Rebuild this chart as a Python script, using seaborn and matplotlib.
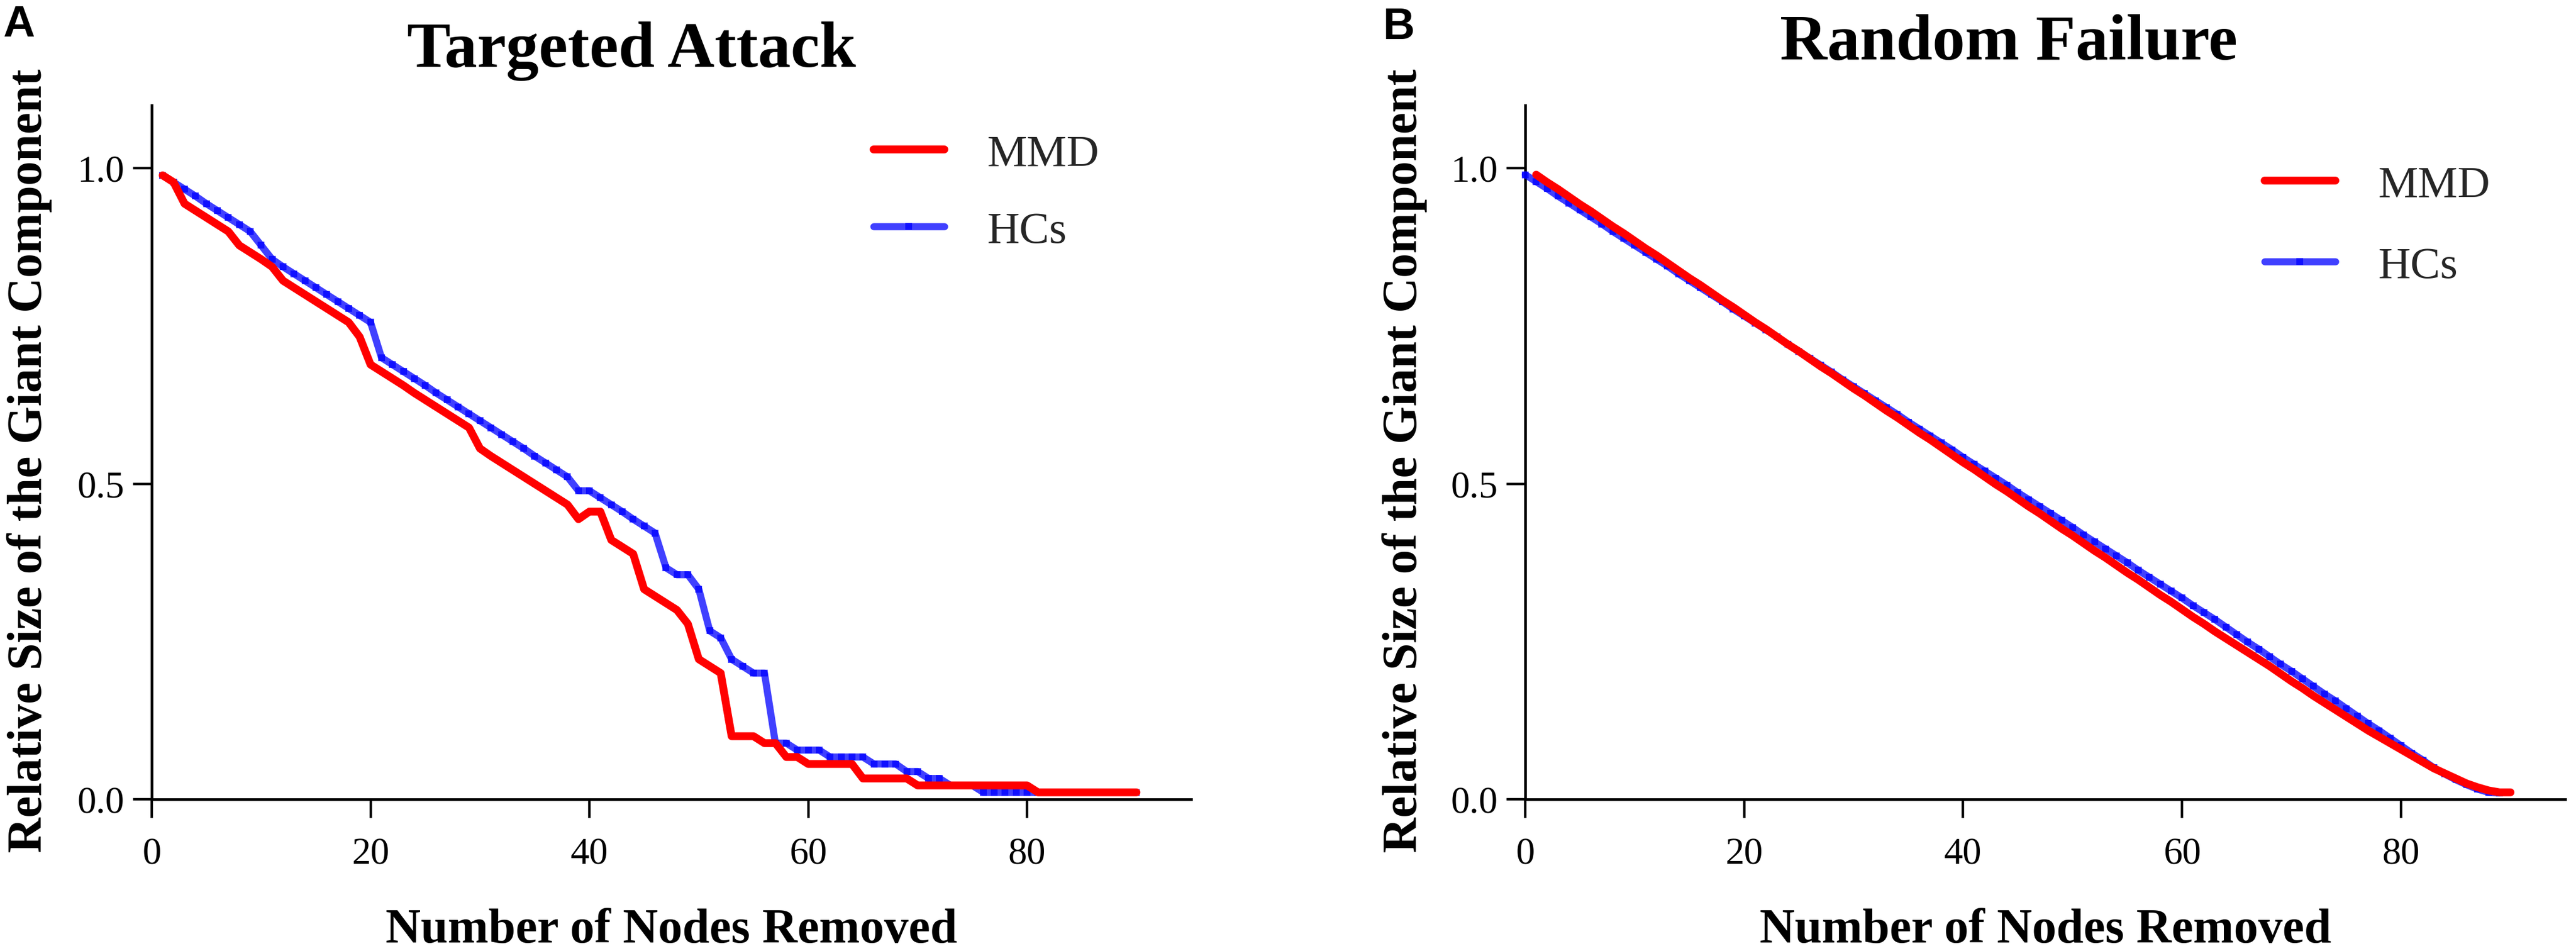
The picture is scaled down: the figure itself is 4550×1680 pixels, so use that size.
import matplotlib
matplotlib.use("Agg")
import matplotlib.pyplot as plt
import seaborn as sns
from matplotlib.lines import Line2D

# ---------------- data ----------------
nodes_ta = [1, 2, 3, 4, 5, 6, 7, 8, 9, 10, 11, 12, 13, 14, 15, 16, 17, 18, 19, 20,
            21, 22, 23, 24, 25, 26, 27, 28, 29, 30, 31, 32, 33, 34, 35, 36, 37, 38, 39, 40,
            41, 42, 43, 44, 45, 46, 47, 48, 49, 50, 51, 52, 53, 54, 55, 56, 57, 58, 59, 60,
            61, 62, 63, 64, 65, 66, 67, 68, 69, 70, 71, 72, 73, 74, 75, 76, 77, 78, 79, 80,
            81, 82, 83, 84, 85, 86, 87, 88, 89, 90]

mmd_ta = [0.989, 0.978, 0.944, 0.933, 0.922, 0.911, 0.900, 0.878, 0.867, 0.856,
          0.844, 0.822, 0.811, 0.800, 0.789, 0.778, 0.767, 0.756, 0.733, 0.689,
          0.678, 0.667, 0.656, 0.644, 0.633, 0.622, 0.611, 0.600, 0.589, 0.556,
          0.544, 0.533, 0.522, 0.511, 0.500, 0.489, 0.478, 0.467, 0.444, 0.456,
          0.456, 0.411, 0.400, 0.389, 0.333, 0.322, 0.311, 0.300, 0.278, 0.222,
          0.211, 0.200, 0.100, 0.100, 0.100, 0.089, 0.089, 0.067, 0.067, 0.056,
          0.056, 0.056, 0.056, 0.056, 0.033, 0.033, 0.033, 0.033, 0.033, 0.022,
          0.022, 0.022, 0.022, 0.022, 0.022, 0.022, 0.022, 0.022, 0.022, 0.022,
          0.011, 0.011, 0.011, 0.011, 0.011, 0.011, 0.011, 0.011, 0.011, 0.011]

hcs_ta = [0.989, 0.978, 0.967, 0.956, 0.944, 0.933, 0.922, 0.911, 0.900, 0.878,
          0.856, 0.844, 0.833, 0.822, 0.811, 0.800, 0.789, 0.778, 0.767, 0.756,
          0.700, 0.689, 0.678, 0.667, 0.656, 0.644, 0.633, 0.622, 0.611, 0.600,
          0.589, 0.578, 0.567, 0.556, 0.544, 0.533, 0.522, 0.511, 0.489, 0.489,
          0.478, 0.467, 0.456, 0.444, 0.433, 0.422, 0.367, 0.356, 0.356, 0.333,
          0.267, 0.256, 0.222, 0.211, 0.200, 0.200, 0.089, 0.089, 0.078, 0.078,
          0.078, 0.067, 0.067, 0.067, 0.067, 0.056, 0.056, 0.056, 0.044, 0.044,
          0.033, 0.033, 0.022, 0.022, 0.022, 0.011, 0.011, 0.011, 0.011, 0.011,
          0.011, 0.011, 0.011, 0.011, 0.011, 0.011, 0.011, 0.011, 0.011, 0.011]

nodes_rf_mmd = [1, 2, 3, 4, 5, 6, 7, 8, 9, 10, 11, 12, 13, 14, 15, 16, 17, 18, 19, 20,
                21, 22, 23, 24, 25, 26, 27, 28, 29, 30, 31, 32, 33, 34, 35, 36, 37, 38, 39, 40,
                41, 42, 43, 44, 45, 46, 47, 48, 49, 50, 51, 52, 53, 54, 55, 56, 57, 58, 59, 60,
                61, 62, 63, 64, 65, 66, 67, 68, 69, 70, 71, 72, 73, 74, 75, 76, 77, 78, 79, 80,
                81, 82, 83, 84, 85, 86, 87, 88, 89, 90]

mmd_rf = [0.990, 0.978, 0.967, 0.955, 0.943, 0.932, 0.920, 0.908, 0.897, 0.885,
          0.873, 0.862, 0.850, 0.838, 0.826, 0.815, 0.803, 0.791, 0.780, 0.768,
          0.756, 0.745, 0.733, 0.721, 0.710, 0.698, 0.686, 0.675, 0.663, 0.651,
          0.640, 0.628, 0.616, 0.605, 0.593, 0.581, 0.570, 0.558, 0.546, 0.534,
          0.523, 0.511, 0.499, 0.488, 0.476, 0.464, 0.453, 0.441, 0.429, 0.418,
          0.406, 0.394, 0.383, 0.371, 0.359, 0.348, 0.336, 0.324, 0.313, 0.301,
          0.289, 0.278, 0.266, 0.255, 0.244, 0.233, 0.222, 0.211, 0.199, 0.187,
          0.176, 0.164, 0.153, 0.142, 0.131, 0.120, 0.109, 0.099, 0.089, 0.079,
          0.069, 0.059, 0.049, 0.041, 0.033, 0.025, 0.019, 0.014, 0.011, 0.011]

nodes_rf_hcs = [0, 1, 2, 3, 4, 5, 6, 7, 8, 9, 10, 11, 12, 13, 14, 15, 16, 17, 18, 19,
                20, 21, 22, 23, 24, 25, 26, 27, 28, 29, 30, 31, 32, 33, 34, 35, 36, 37, 38, 39,
                40, 41, 42, 43, 44, 45, 46, 47, 48, 49, 50, 51, 52, 53, 54, 55, 56, 57, 58, 59,
                60, 61, 62, 63, 64, 65, 66, 67, 68, 69, 70, 71, 72, 73, 74, 75, 76, 77, 78, 79,
                80, 81, 82, 83, 84, 85, 86, 87, 88, 89]

hcs_rf = [0.990, 0.979, 0.968, 0.956, 0.945, 0.934, 0.923, 0.912, 0.900, 0.889,
          0.878, 0.867, 0.856, 0.845, 0.833, 0.822, 0.811, 0.800, 0.789, 0.777,
          0.766, 0.755, 0.744, 0.733, 0.721, 0.710, 0.699, 0.688, 0.677, 0.665,
          0.654, 0.643, 0.632, 0.621, 0.610, 0.598, 0.587, 0.576, 0.565, 0.554,
          0.542, 0.531, 0.520, 0.509, 0.498, 0.486, 0.475, 0.464, 0.453, 0.442,
          0.431, 0.419, 0.408, 0.397, 0.386, 0.375, 0.363, 0.352, 0.341, 0.330,
          0.319, 0.307, 0.296, 0.285, 0.273, 0.261, 0.249, 0.238, 0.226, 0.214,
          0.203, 0.191, 0.179, 0.167, 0.156, 0.144, 0.132, 0.120, 0.109, 0.097,
          0.085, 0.073, 0.062, 0.050, 0.040, 0.031, 0.023, 0.016, 0.011, 0.010]

series_labels = ["MMD", "HCs"]
panel_titles = ["Targeted Attack", "Random Failure"]
panel_letters = ["A", "B"]
x_label = "Number of Nodes Removed"
y_label = "Relative Size of the Giant Component"
x_ticks = [0, 20, 40, 60, 80]
y_ticks = [0.0, 0.5, 1.0]
y_tick_labels = ["0.0", "0.5", "1.0"]

# ---------------- style ----------------
sns.set_theme(style="ticks")
plt.rcParams['font.family'] = ['Liberation Serif', 'DejaVu Serif']

RED = "#ff0000"
BLUE = "#0000ff"
W, H = 4550, 1681
fig = plt.figure(figsize=(W / 100, H / 100), dpi=100)
fig.patch.set_facecolor("white")


def fx(px):
    return px / W


def fy(py):
    return 1 - py / H


axes_px = [(268, 2104), (2694, 4531)]
top_px, bot_px = 187, 1413

panels = [
    (nodes_ta, mmd_ta, nodes_ta, hcs_ta),
    (nodes_rf_mmd, mmd_rf, nodes_rf_hcs, hcs_rf),
]
legend_pos = [(1543, 237, 0.81), (4000, 292, 0.9)]
title_pos = [(1115, 118), (3548, 104)]
ylabel_x = [73, 2502]
letter_pos = [(5, 7), (2443, 12)]

for i, (xm, ym, xh, yh) in enumerate(panels):
    l, r = axes_px[i]
    ax = fig.add_axes([fx(l), fy(bot_px), (r - l) / W, (bot_px - top_px) / H])
    ax.set_facecolor("white")
    sns.lineplot(x=xh, y=yh, ax=ax, color=BLUE, linewidth=9, alpha=0.75,
                 marker="s", markersize=8.5, markeredgewidth=0, clip_on=False,
                 legend=False, zorder=3)
    sns.lineplot(x=xm, y=ym, ax=ax, color=RED, linewidth=10, clip_on=False,
                 legend=False, zorder=4)
    ax.set_xlim(0, 95)
    ax.set_ylim(0, 1.1)
    ax.set_xticks(x_ticks)
    ax.set_xticklabels([str(t) for t in x_ticks])
    ax.set_yticks(y_ticks)
    ax.set_yticklabels(y_tick_labels)
    ax.set_xlabel("")
    ax.set_ylabel("")
    sns.despine(ax=ax)
    for s in ["left", "bottom"]:
        ax.spines[s].set_linewidth(3.4)
        ax.spines[s].set_color("black")
    ax.tick_params(axis="both", direction="out", length=24, width=3.2,
                   color="black", labelsize=48, labelcolor="black")
    ax.tick_params(axis="x", pad=24)
    ax.tick_params(axis="y", pad=11)

    handles = [
        Line2D([], [], color=RED, linewidth=10),
        Line2D([], [], color=BLUE, linewidth=9, alpha=0.75, marker="s",
               markersize=8.5, markeredgewidth=0),
    ]
    lx, ly, lsp = legend_pos[i]
    ax.legend(handles, series_labels, loc="upper left",
              bbox_to_anchor=(fx(lx), fy(ly)), bbox_transform=fig.transFigure,
              frameon=False, fontsize=57, handlelength=1.575,
              handletextpad=0.96, labelspacing=lsp, borderpad=0,
              borderaxespad=0, numpoints=1)

    # titles and labels
    tx, ty = title_pos[i]
    fig.text(fx(tx), fy(ty), panel_titles[i], ha="center", va="baseline",
             fontsize=83, fontweight="bold", color="black")
    fig.text(fx((l + r) / 2), fy(1665), x_label, ha="center", va="baseline",
             fontsize=62, fontweight="bold", color="black")
    fig.text(fx(ylabel_x[i]), fy(814), y_label, ha="center", va="baseline",
             rotation=90, rotation_mode="anchor", fontsize=62,
             fontweight="bold", color="black")
    px_, py_ = letter_pos[i]
    fig.text(fx(px_), fy(py_), panel_letters[i], ha="left", va="top",
             fontsize=56, fontweight="bold", color="black",
             family=["Liberation Sans", "DejaVu Sans"])

fig.savefig("out.png", dpi=100, facecolor="white")
